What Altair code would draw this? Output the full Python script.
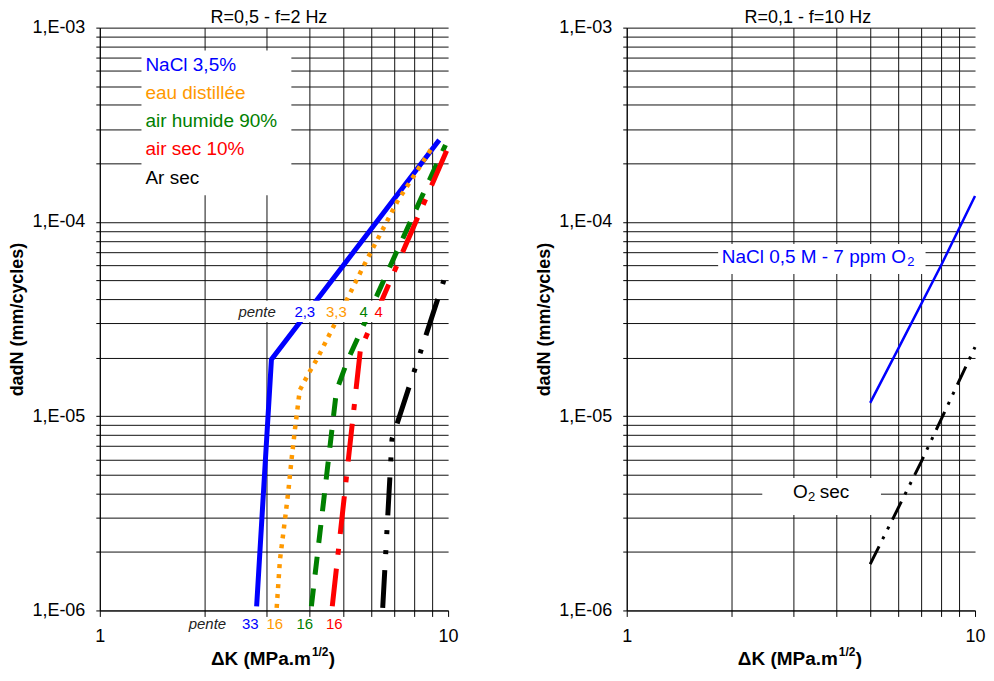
import altair as alt
import pandas as pd

# ---------------- data ----------------
# Left panel: R=0,5 - f=2 Hz
dK_nacl35 = [2.82, 3.11, 9.43]
da_nacl35 = [1.05e-6, 1.96e-5, 2.64e-4]

dK_eau = [3.22, 3.29, 3.40, 3.48, 3.55, 3.63, 3.75, 3.97, 4.23, 4.62, 5.75, 7.16, 9.10]
da_eau = [1.03e-6, 1.82e-6, 2.92e-6, 4.16e-6, 5.93e-6, 8.45e-6, 1.36e-5, 1.65e-5,
          2.01e-5, 2.75e-5, 6.04e-5, 1.28e-4, 2.49e-4]

dK_humide = [4.05, 4.78, 5.13, 6.92, 9.83]
da_humide = [1.05e-6, 1.35e-5, 1.91e-5, 6.28e-5, 2.49e-4]

dK_airsec = [4.65, 5.60, 9.93]
da_airsec = [1.05e-6, 2.20e-5, 2.35e-4]

dK_ar = [6.49, 6.90, 7.16, 9.72]
da_ar = [1.03e-6, 7.6e-6, 9.3e-6, 5.0e-5]

# Right panel: R=0,1 - f=10 Hz
dK_nacl05 = [5.0, 6.0, 8.0, 10.0]
da_nacl05 = [1.17e-5, 2.2e-5, 6.0e-5, 1.36e-4]

dK_o2 = [5.0, 7.0, 10.0]
da_o2 = [1.73e-6, 5.8e-6, 2.27e-5]

legend_labels = ["NaCl 3,5%", "eau distillée", "air humide 90%", "air sec 10%", "Ar sec"]
pente_top = ["2,3", "3,3", "4", "4"]
pente_bottom = ["33", "16", "16", "16"]

x_ticks = [1, 2, 3, 4, 5, 6, 7, 8, 9, 10]
y_ticks = [float(f"{m}e{e}") for e in (-6, -5, -4) for m in range(1, 10)] + [1e-3]

# ---------------- styling ----------------
FONT = "Liberation Sans"
BLUE, ORANGE, GREEN, RED, BLACK = "#0000FF", "#FF9900", "#008000", "#FF0000", "#000000"
W, H = 349, 584

xscale = alt.Scale(type="log", domain=[1, 10], nice=False)
yscale = alt.Scale(type="log", domain=[1e-6, 1e-3], nice=False)

xaxis = alt.Axis(
    values=x_ticks, title=None, grid=True,
    gridColor={"condition": {"test": "datum.value === 10", "value": "transparent"}, "value": "#111111"},
    labelExpr="datum.value == 1 ? '1' : (datum.value == 10 ? '10' : '')",
    labelFlush=False, labelOverlap=False, tickSize=6, labelPadding=11,
)
yaxis = alt.Axis(
    values=y_ticks, title="dadN (mm/cycles)", grid=True, gridColor="#111111",
    labelExpr="abs(log(datum.value)/LN10 - round(log(datum.value)/LN10)) < 0.001 ? '1,E-0' + (-round(log(datum.value)/LN10)) : ''",
    labelFlush=False, labelOverlap=False, tickSize=4, labelPadding=11, titlePadding=5,
)


def enc(chart, xf="K", yf="dadN"):
    return chart.encode(
        x=alt.X(f"{xf}:Q", scale=xscale, axis=xaxis),
        y=alt.Y(f"{yf}:Q", scale=yscale, axis=yaxis),
    )


def curve(K, da, color, width, dash=None):
    df = pd.DataFrame({"K": K, "dadN": da, "i": list(range(len(K)))})
    kw = dict(color=color, strokeWidth=width, strokeCap="butt", strokeJoin="miter")
    if dash:
        kw["strokeDash"] = dash
    return enc(alt.Chart(df).mark_line(**kw)).encode(order="i:Q")


def box(x1, x2, y1, y2):
    df = pd.DataFrame({"K": [x1], "K2": [x2], "dadN": [y1], "dadN2": [y2]})
    return alt.Chart(df).mark_rect(fill="white", stroke=None).encode(
        x=alt.X("K:Q", scale=xscale, axis=xaxis), x2="K2:Q",
        y=alt.Y("dadN:Q", scale=yscale, axis=yaxis), y2="dadN2:Q",
    )


def texts(labels, xs, ys, colors, size=19, style="normal", align="left", dx=0, dy=0):
    df = pd.DataFrame({"t": labels, "K": xs, "dadN": ys, "c": colors})
    return enc(alt.Chart(df).mark_text(
        align=align, baseline="middle", font=FONT, fontSize=size, fontStyle=style, dx=dx, dy=dy
    )).encode(text="t:N", color=alt.Color("c:N", scale=None))


def xtitle():
    pieces = []
    for t, size, dx, dy, align in [("ΔK (MPa.m", 19, 37, 0, "right"), ("1/2", 12, 38, -7, "left"), (")", 19, 55, 0, "left")]:
        pieces.append(alt.Chart(pd.DataFrame({"t": [t]})).mark_text(
            align=align, baseline="middle", font=FONT, fontSize=size, fontWeight="bold",
            color="black", dx=dx, dy=dy,
        ).encode(text="t:N", x=alt.value(W / 2), y=alt.value(H + 49)))
    return pieces


def panel_title(text, dx):
    return alt.TitleParams(text, font=FONT, fontSize=18, fontWeight="normal", color="black",
                           offset=1, dx=dx, dy=9, anchor="middle", frame="group")


# ---------------- left panel ----------------
left_layers = [
    curve(dK_nacl35, da_nacl35, BLUE, 5),
    curve(dK_eau, da_eau, ORANGE, 4.5, [4, 6]),
    curve(dK_humide, da_humide, GREEN, 5, [18, 14]),
    curve(dK_airsec, da_airsec, RED, 5, [38, 14, 6, 15]),
    curve(dK_ar, da_ar, BLACK, 5, [38, 16, 4, 16, 4, 15]),
    box(1.317, 3.548, 1.37e-4, 7.62e-4),
    texts(legend_labels, [1.352] * 5, [6.39e-4, 4.59e-4, 3.30e-4, 2.37e-4, 1.68e-4],
          [BLUE, ORANGE, GREEN, RED, BLACK]),
    box(2.38, 6.79, 3.05e-5, 3.93e-5),
    texts(["pente"], [2.50], [3.45e-5], ["#222222"], size=15, style="italic"),
    texts(pente_top, [3.62, 4.46, 5.57, 6.15], [3.45e-5] * 4, [BLUE, ORANGE, GREEN, RED], size=15),
    texts(["pente"], [1.80], [8.47e-7], ["#222222"], size=15, style="italic"),
    texts(pente_bottom, [2.56, 3.01, 3.67, 4.46], [8.47e-7] * 4, [BLUE, ORANGE, GREEN, RED], size=15),
] + xtitle()

left = alt.layer(*left_layers).properties(
    width=W, height=H, title=panel_title("R=0,5 - f=2 Hz", -5),
)

# ---------------- right panel ----------------
right_layers = [
    curve(dK_nacl05, da_nacl05, BLUE, 2.5),
    curve(dK_o2, da_o2, BLACK, 3, [20, 8, 3, 8, 3, 8]),
    box(1.83, 7.21, 5.4e-5, 7.7e-5),
    texts(["NaCl 0,5 M - 7 ppm O"], [1.874], [6.58e-5], [BLUE]),
    texts(["2"], [1.874], [6.58e-5], [BLUE], size=13, dx=186, dy=5),
    box(2.45, 5.37, 3.1e-6, 4.8e-6),
    texts(["O"], [3.0], [4.05e-6], [BLACK]),
    texts(["2"], [3.0], [4.05e-6], [BLACK], size=13, dx=15, dy=5),
    texts(["sec"], [3.0], [4.05e-6], [BLACK], dx=27),
] + xtitle()

right = alt.layer(*right_layers).properties(
    width=W, height=H, title=panel_title("R=0,1 - f=10 Hz", 7),
)

chart = (
    alt.hconcat(left, right, spacing=76)
    .properties(padding={"left": 0, "top": 0, "right": 0, "bottom": 0}, background="white")
    .configure_view(stroke=None)
    .configure_axis(
        labelFont=FONT, labelFontSize=18, labelColor="black",
        titleFont=FONT, titleFontSize=18, titleFontWeight="bold", titleColor="black",
        domainColor="black", domainWidth=1, tickColor="black", tickWidth=1, gridWidth=1,
    )
)

chart.save("out.html", embed_options={"renderer": "svg", "actions": False})
